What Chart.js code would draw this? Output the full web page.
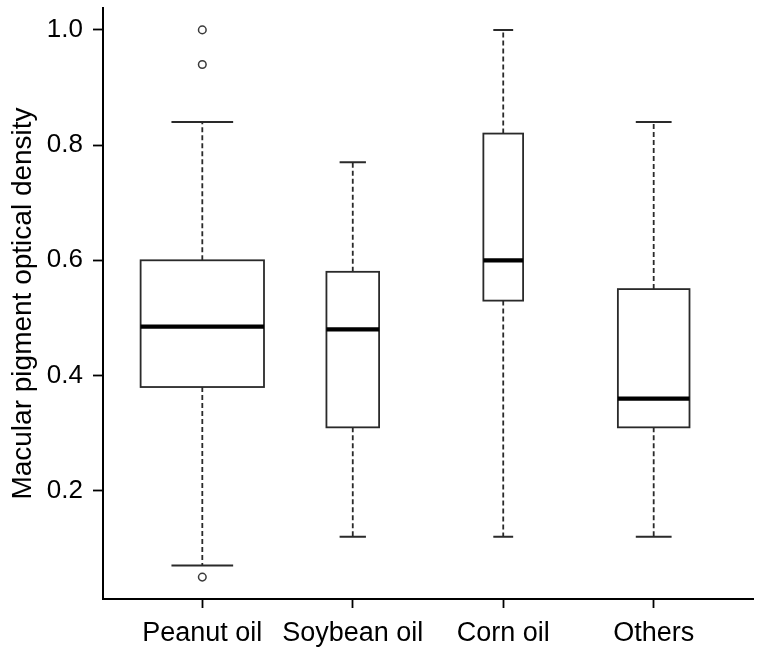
<!DOCTYPE html>
<html>
<head>
<meta charset="utf-8">
<script src="https://cdn.jsdelivr.net/npm/chart.js@4/dist/chart.umd.min.js"></script>
<style>
  html, body { margin: 0; background: #fff; }
  #wrap { width: 764px; height: 655px; }
</style>
</head>
<body>
<div id="wrap"><canvas id="myChart"></canvas></div>
<script>
// box plot values
const categories = ['Peanut oil', 'Soybean oil', 'Corn oil', 'Others'];
const whiskerLow = [0.07, 0.12, 0.12, 0.12];
const q1 = [0.38, 0.31, 0.53, 0.31];
const median = [0.485, 0.48, 0.60, 0.36];
const q3 = [0.60, 0.58, 0.82, 0.55];
const whiskerHigh = [0.84, 0.77, 1.0, 0.84];
const outliers = [[1.0, 0.94, 0.05], [], [], []];
const yTicks = [0.2, 0.4, 0.6, 0.8, 1.0];

// half box widths in x units (boxes are drawn with variable width)
const boxHalf = [0.41, 0.175, 0.132, 0.238];

const FONT = '"Liberation Sans", Arial, Helvetica, sans-serif';
const LINE = '#2a2a2a';

const boxPlugin = {
  id: 'boxes',
  beforeDatasetsDraw(chart) {
    const { ctx, scales: { x, y } } = chart;
    ctx.save();
    categories.forEach((c, i) => {
      const xc = x.getPixelForValue(i + 1);
      const hw = x.getPixelForValue(i + 1 + boxHalf[i]) - xc;
      const yLo = y.getPixelForValue(whiskerLow[i]);
      const yQ1 = y.getPixelForValue(q1[i]);
      const yMed = y.getPixelForValue(median[i]);
      const yQ3 = y.getPixelForValue(q3[i]);
      const yHi = y.getPixelForValue(whiskerHigh[i]);

      // whiskers
      ctx.strokeStyle = LINE;
      ctx.lineWidth = 1.8;
      ctx.setLineDash([5, 3]);
      ctx.beginPath();
      ctx.moveTo(xc, yQ3); ctx.lineTo(xc, yHi);
      ctx.moveTo(xc, yQ1); ctx.lineTo(xc, yLo);
      ctx.stroke();

      // caps
      ctx.setLineDash([]);
      ctx.lineWidth = 2;
      ctx.beginPath();
      ctx.moveTo(xc - hw / 2, yHi); ctx.lineTo(xc + hw / 2, yHi);
      ctx.moveTo(xc - hw / 2, yLo); ctx.lineTo(xc + hw / 2, yLo);
      ctx.stroke();

      // box
      ctx.fillStyle = '#fff';
      ctx.lineWidth = 1.8;
      ctx.fillRect(xc - hw, yQ3, hw * 2, yQ1 - yQ3);
      ctx.strokeRect(xc - hw, yQ3, hw * 2, yQ1 - yQ3);

      // median
      ctx.strokeStyle = '#000';
      ctx.lineWidth = 4.2;
      ctx.beginPath();
      ctx.moveTo(xc - hw, yMed); ctx.lineTo(xc + hw, yMed);
      ctx.stroke();
    });
    ctx.restore();
  }
};

function noPad(scale) {
  scale.paddingLeft = 0;
  scale.paddingRight = 0;
  scale.paddingTop = 0;
  scale.paddingBottom = 0;
}

new Chart(document.getElementById('myChart'), {
  type: 'scatter',
  data: {
    datasets: [{
      data: outliers.flatMap((arr, i) => arr.map(v => ({ x: i + 1, y: v }))),
      pointStyle: 'circle',
      pointRadius: 3.8,
      pointBorderWidth: 1.5,
      pointBorderColor: '#3a3a3a',
      pointBackgroundColor: '#fff'
    }]
  },
  options: {
    responsive: true,
    maintainAspectRatio: false,
    animation: false,
    devicePixelRatio: 1,
    layout: { padding: { top: 8, right: 11, left: 0, bottom: 0 } },
    plugins: { legend: { display: false }, tooltip: { enabled: false } },
    scales: {
      x: {
        type: 'linear',
        min: 0.34,
        max: 4.66,
        afterBuildTicks: s => { s.ticks = categories.map((c, i) => ({ value: i + 1 })); },
        afterFit: s => { s.height = 56; noPad(s); },
        ticks: {
          autoSkip: false,
          maxRotation: 0,
          padding: 9,
          color: '#000',
          font: { family: FONT, size: 27 },
          callback: v => categories[v - 1]
        },
        grid: { drawOnChartArea: false, tickLength: 9, tickColor: '#000', tickWidth: 1.8 },
        border: { color: '#000', width: 2 }
      },
      y: {
        min: 0.012,
        max: 1.038,
        afterBuildTicks: s => { s.ticks = yTicks.map(v => ({ value: v })); },
        afterFit: s => { s.width = 103; noPad(s); },
        ticks: {
          padding: 10,
          color: '#000',
          font: { family: FONT, size: 26 },
          callback: v => v.toFixed(1)
        },
        grid: { drawOnChartArea: false, tickLength: 10, tickColor: '#000', tickWidth: 1.8 },
        border: { color: '#000', width: 2 },
        title: {
          display: true,
          text: 'Macular pigment optical density',
          color: '#000',
          font: { family: FONT, size: 28 },
          padding: { top: 6, bottom: 0 }
        }
      }
    }
  },
  plugins: [boxPlugin]
});
</script>
</body>
</html>
